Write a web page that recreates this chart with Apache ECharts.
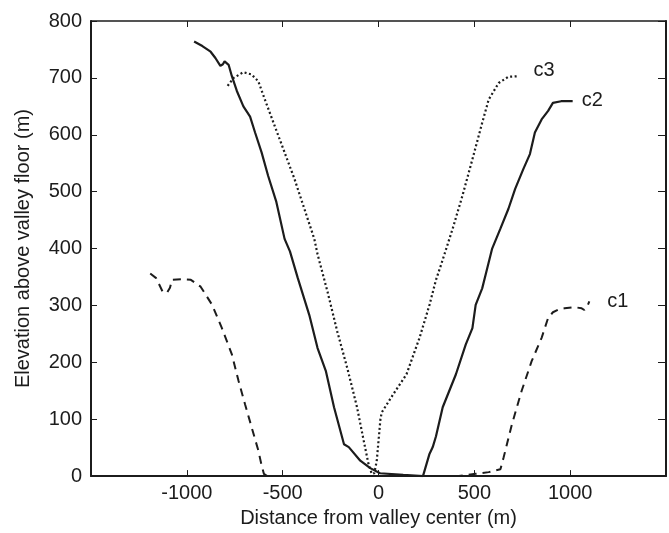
<!DOCTYPE html>
<html>
<head>
<meta charset="utf-8">
<script src="https://cdn.jsdelivr.net/npm/echarts@6/dist/echarts.min.js"></script>
<style>
  html, body { margin: 0; padding: 0; background: #fff; }
  #chart { width: 669px; height: 533px; }
</style>
</head>
<body>
<div id="chart"></div>
<script>
// Cross-valley elevation profiles: [distance from centre (m), elevation above floor (m)]
var c1Points = [
  [-1191, 356], [-1160, 348], [-1126, 324], [-1104, 322], [-1088, 331], [-1077, 345],
  [-1023, 346], [-979, 345], [-928, 333], [-868, 301], [-817, 260], [-765, 214],
  [-730, 167], [-696, 126], [-662, 86], [-627, 45], [-610, 19], [-598, 4], [-580, 0],
  [420, 0], [507, 4], [575, 7], [636, 12], [653, 33], [696, 91], [747, 150],
  [799, 202], [851, 243], [885, 278], [910, 288], [940, 293], [971, 295],
  [1022, 297], [1060, 295], [1074, 292], [1090, 299], [1100, 307]
];
var c2Points = [
  [-962, 764], [-919, 756], [-876, 746], [-851, 735], [-825, 721], [-812, 724],
  [-803, 729], [-782, 723], [-765, 703], [-739, 677], [-705, 650], [-670, 632],
  [-644, 604], [-610, 569], [-576, 528], [-533, 482], [-490, 417], [-462, 395],
  [-421, 348], [-361, 283], [-318, 225], [-275, 185], [-232, 121], [-180, 56],
  [-155, 51], [-146, 48], [-95, 27], [-43, 14], [8, 5], [129, 2], [232, 0],
  [240, 1], [266, 39], [283, 51], [300, 70], [335, 121], [404, 179], [455, 231],
  [490, 260], [507, 301], [541, 330], [567, 365], [593, 400], [636, 435],
  [678, 470], [713, 505], [756, 540], [790, 566], [816, 604], [851, 627],
  [885, 642], [910, 656], [953, 659], [1013, 659]
];
var c3Points = [
  [-787, 686], [-756, 700], [-705, 710], [-662, 706], [-627, 694], [-593, 662],
  [-541, 615], [-490, 569], [-438, 522], [-387, 470], [-335, 417], [-318, 390],
  [-266, 324], [-215, 254], [-163, 190], [-112, 121], [-77, 62], [-52, 21],
  [-35, 4], [-22, 5], [-9, 27], [10, 100], [17, 112], [77, 144], [146, 179],
  [214, 243], [266, 301], [300, 345], [326, 371], [387, 435], [438, 493],
  [490, 557], [541, 621], [575, 662], [627, 691], [678, 702], [730, 703]
];
var xTicks = [-1500, 1500, 500];   // min, max, step
var yTicks = [0, 800, 100];

var ink = '#1c1c1c';
var font = 'Liberation Sans, Arial, Helvetica, sans-serif';
var textSize = 20;

function frameAxis(extra) {
  var base = {
    type: 'value',
    axisLine: { show: true, onZero: false, lineStyle: { color: ink, width: 2 } },
    axisTick: { show: true, inside: true, length: 6, lineStyle: { color: ink, width: 1 } },
    splitLine: { show: false },
    axisLabel: { show: false }
  };
  for (var k in extra) base[k] = extra[k];
  return base;
}

var chart = echarts.init(document.getElementById('chart'), null, { renderer: 'canvas' });

chart.setOption({
  animation: false,
  backgroundColor: '#fff',
  grid: { left: 91, right: -4, top: 21, bottom: 54, containLabel: false },
  xAxis: [
    frameAxis({
      position: 'bottom',
      min: xTicks[0], max: xTicks[1], interval: xTicks[2],
      name: 'Distance from valley center (m)',
      nameLocation: 'middle',
      nameGap: 31,
      nameTextStyle: { color: ink, fontSize: textSize, fontFamily: font },
      axisLabel: {
        show: true, color: ink, fontSize: textSize, fontFamily: font, margin: 7,
        formatter: function (v) { return (v <= xTicks[0] || v >= xTicks[1]) ? '' : String(v); }
      }
    }),
    frameAxis({
      position: 'top',
      min: xTicks[0], max: xTicks[1], interval: xTicks[2],
      axisLine: { show: true, onZero: false, lineStyle: { color: ink, width: 1.6 } }
    })
  ],
  yAxis: [
    frameAxis({
      position: 'left',
      min: yTicks[0], max: yTicks[1], interval: yTicks[2],
      name: 'Elevation above valley floor (m)',
      nameLocation: 'middle',
      nameGap: 58,
      nameTextStyle: { color: ink, fontSize: textSize, fontFamily: font },
      axisLabel: { show: true, color: ink, fontSize: textSize, fontFamily: font, margin: 9 }
    }),
    frameAxis({
      position: 'right',
      min: yTicks[0], max: yTicks[1], interval: yTicks[2],
      axisTick: { show: true, inside: true, length: 8, lineStyle: { color: ink, width: 1 } }
    })
  ],
  series: [
    {
      name: 'c1', type: 'line', data: c1Points, showSymbol: false, silent: true,
      lineStyle: { color: ink, width: 2, type: [8, 6] },
      endLabel: { show: true, formatter: 'c1', color: ink, fontSize: textSize, fontFamily: font, offset: [10, 0] }
    },
    {
      name: 'c2', type: 'line', data: c2Points, showSymbol: false, silent: true,
      lineStyle: { color: ink, width: 2.2 },
      endLabel: { show: true, formatter: 'c2', color: ink, fontSize: textSize, fontFamily: font, offset: [1, -1] }
    },
    {
      name: 'c3', type: 'line', data: c3Points, showSymbol: false, silent: true,
      lineStyle: { color: ink, width: 2.2, type: [2, 2.5] },
      endLabel: { show: true, formatter: 'c3', color: ink, fontSize: textSize, fontFamily: font, offset: [7, -6] }
    }
  ]
});
</script>
</body>
</html>
